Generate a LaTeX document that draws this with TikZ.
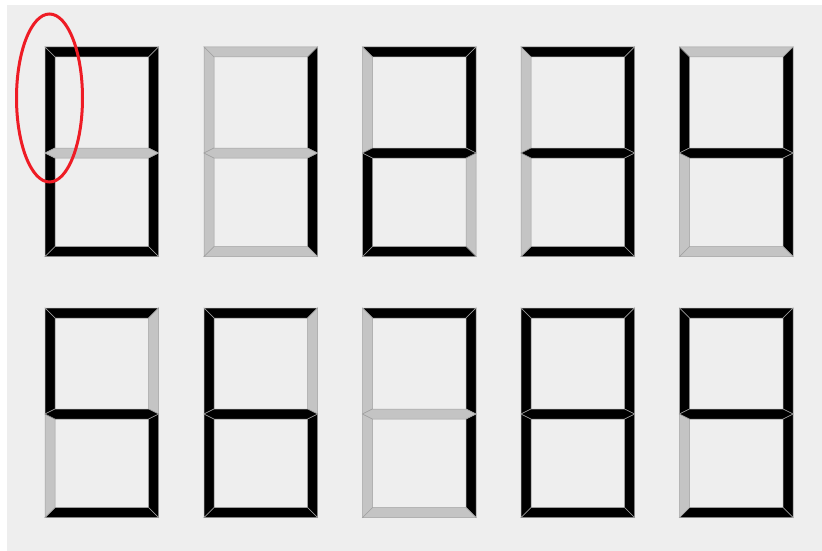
\documentclass[tikz,border=0pt]{standalone}
\definecolor{bgc}{HTML}{EEEEEE}
\definecolor{segoff}{HTML}{C4C4C4}
\definecolor{segline}{HTML}{A0A0A0}
\definecolor{ellred}{HTML}{EE1C25}
\tikzset{
  segon/.style={fill=black, draw=segline, line width=0.5pt, line join=miter},
  segoffs/.style={fill=segoff, draw=segline, line width=0.5pt, line join=miter},
}
% \sevenseg{x}{y}{a}{b}{c}{d}{e}{f}{g}  each arg: segon / segoffs
\newcommand{\sevenseg}[9]{%
  \begin{scope}[shift={(#1,#2)}]
    \def\W{113.5}\def\H{209.5}\def\M{106}\def\t{10}\def\h{5}
    % a
    \path[#3] (0,0) -- (\W,0) -- ({\W-\t},\t) -- (\t,\t) -- cycle;
    % b
    \path[#4] (\W,0) -- (\W,\M) -- ({\W-\t},{\M-\h}) -- ({\W-\t},\t) -- cycle;
    % c
    \path[#5] (\W,\M) -- (\W,\H) -- ({\W-\t},{\H-\t}) -- ({\W-\t},{\M+\h}) -- cycle;
    % d
    \path[#6] (0,\H) -- (\W,\H) -- ({\W-\t},{\H-\t}) -- (\t,{\H-\t}) -- cycle;
    % e
    \path[#7] (0,\M) -- (\t,{\M+\h}) -- (\t,{\H-\t}) -- (0,\H) -- cycle;
    % f
    \path[#8] (0,0) -- (\t,\t) -- (\t,{\M-\h}) -- (0,\M) -- cycle;
    % g
    \path[#9] (0,\M) -- (\t,{\M-\h}) -- ({\W-\t},{\M-\h}) -- (\W,\M) -- ({\W-\t},{\M+\h}) -- (\t,{\M+\h}) -- cycle;
  \end{scope}%
}
\begin{document}
\begin{tikzpicture}[x=1pt,y=-1pt]
  \useasboundingbox (0,0) rectangle (822,551);
  \fill[white] (0,0) rectangle (822,551);
  \fill[bgc] (7,5) rectangle (822,551);
  % top row: 0 1 2 3 4
  \sevenseg{45}{47}{segon}{segon}{segon}{segon}{segon}{segon}{segoffs}
  \sevenseg{204}{47}{segoffs}{segon}{segon}{segoffs}{segoffs}{segoffs}{segoffs}
  \sevenseg{362.5}{47}{segon}{segon}{segoffs}{segon}{segon}{segoffs}{segon}
  \sevenseg{521}{47}{segon}{segon}{segon}{segon}{segoffs}{segoffs}{segon}
  \sevenseg{679.5}{47}{segoffs}{segon}{segon}{segoffs}{segoffs}{segon}{segon}
  % bottom row: 5 6 7 8 9
  \sevenseg{45}{308}{segon}{segoffs}{segon}{segon}{segoffs}{segon}{segon}
  \sevenseg{204}{308}{segon}{segoffs}{segon}{segon}{segon}{segon}{segon}
  \sevenseg{362.5}{308}{segon}{segon}{segon}{segoffs}{segoffs}{segoffs}{segoffs}
  \sevenseg{521}{308}{segon}{segon}{segon}{segon}{segon}{segon}{segon}
  \sevenseg{679.5}{308}{segon}{segon}{segon}{segon}{segoffs}{segon}{segon}
  % red annotation ellipse
  \draw[ellred, line width=3pt] (49.5,98) ellipse [x radius=33, y radius=84];
\end{tikzpicture}
\end{document}
